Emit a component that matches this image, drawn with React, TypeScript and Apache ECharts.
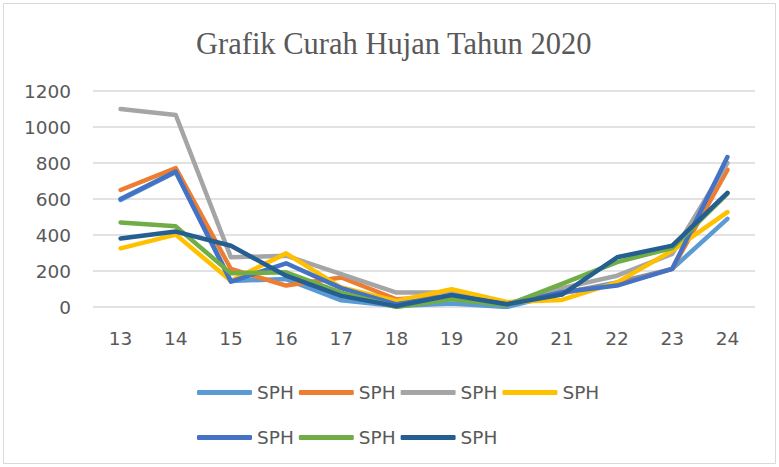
import React, { useEffect, useRef } from "react";
import * as echarts from "echarts";

const categories = ["13", "14", "15", "16", "17", "18", "19", "20", "21", "22", "23", "24"];
const sph1 = [595, 750, 145, 155, 37, 5, 19, 0, 76, 137, 212, 490];
const sph2 = [650, 772, 211, 119, 164, 43, 60, 15, 80, 125, 212, 762];
const sph3 = [1100, 1067, 276, 285, 183, 80, 80, 15, 105, 174, 295, 800];
const sph4 = [326, 402, 146, 298, 108, 34, 99, 28, 39, 137, 313, 527];
const sph5 = [600, 752, 141, 243, 105, 15, 62, 15, 82, 119, 212, 833];
const sph6 = [470, 448, 187, 193, 80, 0, 43, 10, 128, 249, 328, 630];
const sph7 = [381, 419, 340, 174, 62, 5, 67, 15, 69, 276, 341, 634];
const seriesData = [sph1, sph2, sph3, sph4, sph5, sph6, sph7];
const seriesIds = ["SPH-1", "SPH-2", "SPH-3", "SPH-4", "SPH-5", "SPH-6", "SPH-7"];
const colors = ["#5B9BD5", "#ED7D31", "#A5A5A5", "#FFC000", "#4472C4", "#70AD47", "#255E91"];
const titleText = "Grafik Curah Hujan Tahun 2020";
const legendLabel = "SPH";

export default function App() {
  const ref = useRef<HTMLDivElement>(null);
  useEffect(() => {
    if (!ref.current) return;
    const chart = echarts.init(ref.current, null, { renderer: "svg" });
    const font = "DejaVu Sans";
    const legendCommon = {
      orient: "horizontal",
      padding: 0,
      itemWidth: 55,
      itemHeight: 5,
      itemGap: 5,
      icon: "roundRect",
      formatter: () => legendLabel,
      textStyle: { color: "#595959", fontSize: 18.5, fontFamily: font },
    };
    chart.setOption({
      animation: false,
      color: colors,
      title: {
        text: titleText,
        left: 191,
        top: 23,
        textStyle: { color: "#595959", fontSize: 30.5, fontWeight: "normal", fontFamily: "Liberation Serif" },
      },
      graphic: [
        {
          type: "rect",
          shape: { x: 3.5, y: 3.5, width: 772, height: 460 },
          style: { fill: "none", stroke: "#D9D9D9", lineWidth: 1 },
        },
      ],
      legend: [
        { ...legendCommon, data: seriesIds.slice(0, 4), left: 197, top: 383 },
        { ...legendCommon, data: seriesIds.slice(4), left: 197, top: 428 },
      ],
      grid: { left: 93, right: 24, top: 91, bottom: 160, containLabel: false },
      xAxis: {
        type: "category",
        data: categories,
        boundaryGap: true,
        axisLine: { show: false },
        axisTick: { show: false },
        axisLabel: { color: "#595959", fontSize: 18.5, fontFamily: font, margin: 22 },
      },
      yAxis: {
        type: "value",
        min: 0,
        max: 1200,
        interval: 200,
        axisLine: { show: false },
        axisTick: { show: false },
        axisLabel: { color: "#595959", fontSize: 18.5, fontFamily: font, margin: 22, formatter: (v: number) => String(v) },
        splitLine: { lineStyle: { color: "#D9D9D9", width: 1.5 } },
      },
      series: seriesData.map((d, i) => ({
        name: seriesIds[i],
        type: "line",
        data: d,
        showSymbol: false,
        symbol: "none",
        lineStyle: { width: 4.5, color: colors[i], cap: "round", join: "round" },
        itemStyle: { color: colors[i] },
      })),
    });
    return () => chart.dispose();
  }, []);
  return <div ref={ref} style={{ position: "absolute", left: 0, top: 0, width: 779, height: 467 }} />;
}
